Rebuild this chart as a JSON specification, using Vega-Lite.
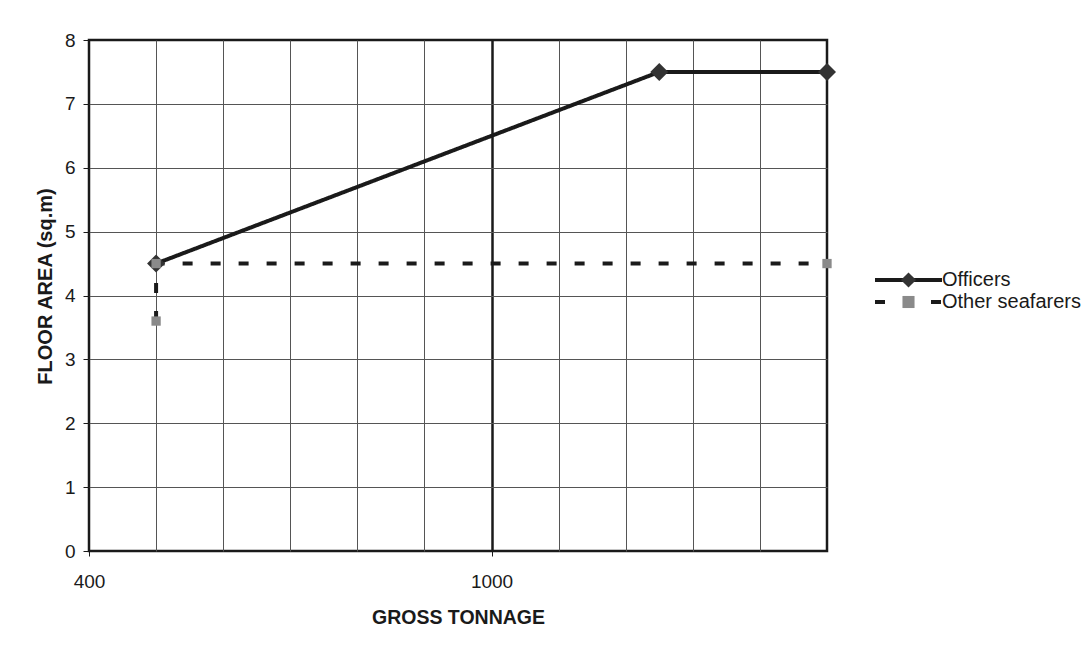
{
  "$schema": "https://vega.github.io/schema/vega-lite/v6.json",
  "width": 738,
  "height": 511,
  "autosize": {"type": "none"},
  "padding": {"left": 89, "top": 40, "right": 262, "bottom": 95},
  "background": "white",
  "config": {
    "font": "Liberation Sans",
    "view": {"stroke": "#1a1a1a", "strokeWidth": 2.5},
    "axis": {"labelFont": "Liberation Sans", "titleFont": "Liberation Sans", "labelColor": "#1a1a1a", "titleColor": "#1a1a1a"},
    "legend": {"labelFont": "Liberation Sans", "padding": 0}
  },
  "data": {
    "values": [
      {"series": "Officers", "tonnage": 500, "area": 4.5},
      {"series": "Officers", "tonnage": 1250, "area": 7.5},
      {"series": "Officers", "tonnage": 1500, "area": 7.5},
      {"series": "Other seafarers", "tonnage": 500, "area": 3.6},
      {"series": "Other seafarers", "tonnage": 500, "area": 4.5},
      {"series": "Other seafarers", "tonnage": 1500, "area": 4.5}
    ]
  },
  "encoding": {
    "x": {
      "field": "tonnage",
      "type": "quantitative",
      "scale": {"domain": [400, 1500], "nice": false, "zero": false},
      "axis": {
        "title": "GROSS TONNAGE",
        "values": [400, 500, 600, 700, 800, 900, 1000, 1100, 1200, 1300, 1400, 1500],
        "format": "d",
        "labelExpr": "datum.value == 400 || datum.value == 1000 ? datum.label : ''",
        "labelOverlap": false,
        "labelFlush": false,
        "labelBound": false,
        "domain": false,
        "tickSize": 5,
        "tickColor": "#1a1a1a",
        "tickWidth": 1,
        "tickOpacity": {"condition": {"test": "datum.value == 400 || datum.value == 1000", "value": 1}, "value": 0},
        "grid": true,
        "gridColor": {"condition": {"test": "datum.value == 1000", "value": "#1a1a1a"}, "value": "#555555"},
        "gridWidth": {"condition": {"test": "datum.value == 1000", "value": 2.5}, "value": 1},
        "gridOpacity": {"condition": {"test": "datum.value == 400 || datum.value == 1500", "value": 0}, "value": 1},
        "labelFontSize": 19,
        "labelPadding": 16,
        "titleFontSize": 19.5,
        "titleFontWeight": "bold",
        "titleX": 369,
        "titleY": 72,
        "titleBaseline": "alphabetic"
      }
    },
    "y": {
      "field": "area",
      "type": "quantitative",
      "scale": {"domain": [0, 8], "nice": false, "zero": true},
      "axis": {
        "title": "FLOOR AREA (sq.m)",
        "values": [0, 1, 2, 3, 4, 5, 6, 7, 8],
        "domain": false,
        "tickSize": 6,
        "tickColor": "#1a1a1a",
        "tickWidth": 1,
        "grid": true,
        "gridColor": "#555555",
        "gridWidth": 1,
        "gridOpacity": {"condition": {"test": "datum.value == 0 || datum.value == 8", "value": 0}, "value": 1},
        "labelFontSize": 19,
        "labelPadding": 8,
        "labelFlush": false,
        "labelBound": false,
        "titleFontSize": 20,
        "titleFontWeight": "bold",
        "titleX": -38,
        "titleY": 246,
        "titleBaseline": "alphabetic"
      }
    }
  },
  "layer": [
    {
      "mark": {"type": "line", "color": "#1a1a1a", "strokeWidth": 4},
      "encoding": {
        "order": {"value": null},
        "strokeDash": {
          "field": "series",
          "type": "nominal",
          "scale": {"domain": ["Officers", "Other seafarers"], "range": [[1, 0], [10, 18]]},
          "legend": {
            "title": null,
            "orient": "none",
            "legendX": 784,
            "legendY": 229,
            "symbolType": "stroke",
            "symbolSize": 4489,
            "symbolStrokeWidth": 4,
            "symbolStrokeColor": "#1a1a1a",
            "clipHeight": 22,
            "rowPadding": 0,
            "labelFontSize": 20,
            "labelColor": "#1a1a1a",
            "labelOffset": -2,
            "padding": 0
          }
        }
      }
    },
    {
      "mark": {"type": "point", "filled": true, "opacity": 1, "strokeWidth": 0},
      "encoding": {
        "shape": {
          "field": "series",
          "type": "nominal",
          "scale": {"range": ["M0,-0.565L0.565,0L0,0.565L-0.565,0Z", "M-0.45,-0.45H0.45V0.45H-0.45Z"]},
          "legend": {
            "title": null,
            "orient": "none",
            "legendX": 806,
            "legendY": 229,
            "symbolSize": 720,
            "symbolStrokeWidth": 0,
            "symbolStrokeColor": "transparent",
            "clipHeight": 22,
            "rowPadding": 0,
            "labelFontSize": 20,
            "labelExpr": "''",
            "padding": 0
          }
        },
        "fill": {
          "field": "series",
          "type": "nominal",
          "scale": {"range": ["#333333", "#8a8a8a"]}
        },
        "size": {"condition": {"test": "datum.series == 'Officers'", "value": 1015}, "value": 427}
      }
    }
  ]
}
